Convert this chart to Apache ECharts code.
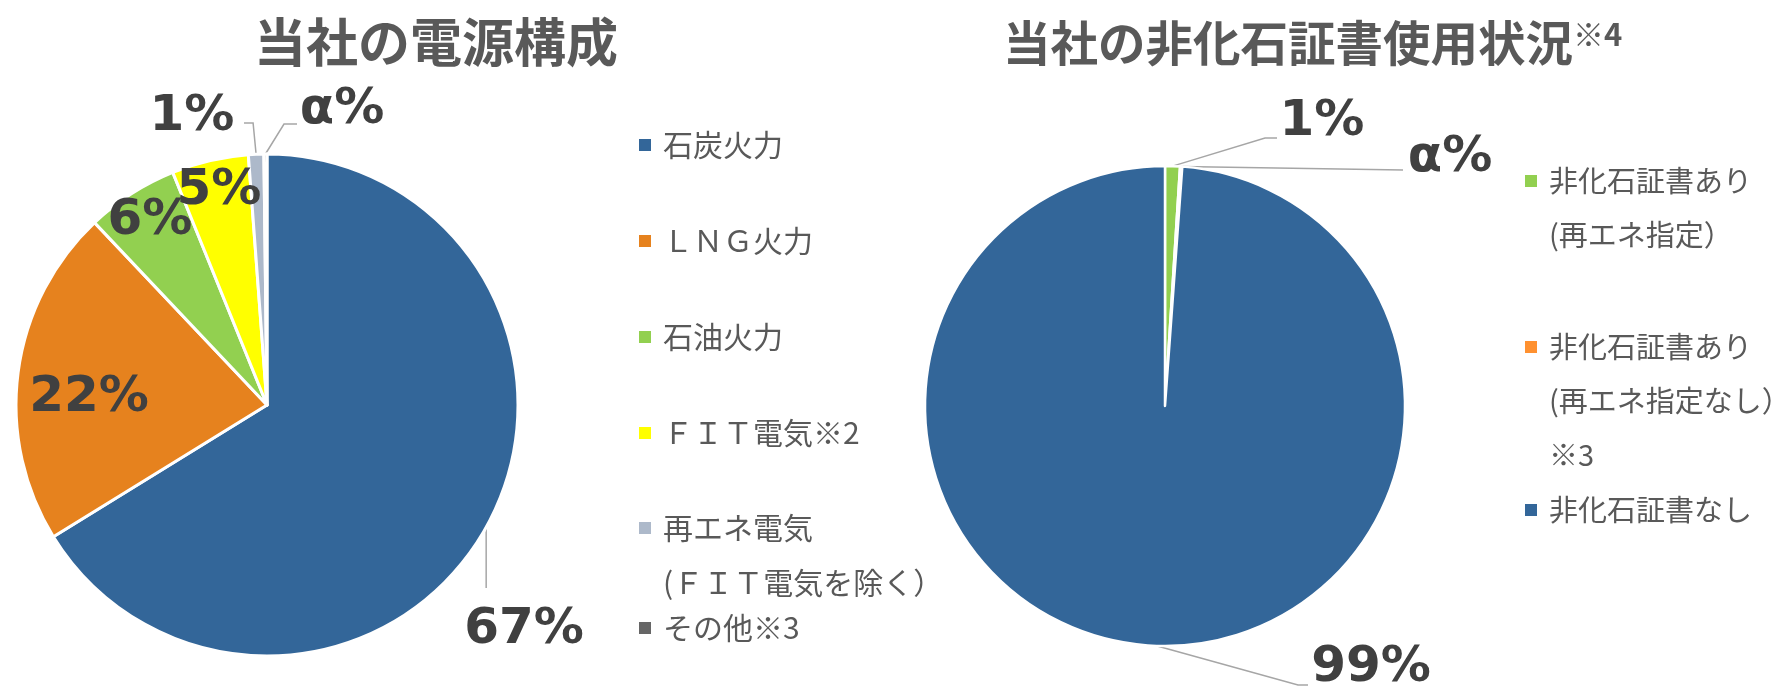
<!DOCTYPE html>
<html>
<head>
<meta charset="utf-8">
<script src="https://cdn.jsdelivr.net/npm/echarts@6/dist/echarts.min.js"></script>
<style>
  html, body { margin: 0; padding: 0; background: #ffffff; }
  #chart { width: 1771px; height: 687px; }
</style>
</head>
<body>
<div id="chart"></div>
<script>
// ---- 当社の電源構成 ----
const mixNames = ['石炭火力', 'ＬＮＧ火力', '石油火力', 'ＦＩＴ電気※2', '再エネ電気\n(ＦＩＴ電気を除く）', 'その他※3'];
const mixValues = [67, 22, 6, 5, 1, 0.2];          // その他 is shown only as "α%"
const mixAlpha = [false, false, false, false, false, true];

// ---- 当社の非化石証書使用状況 ----
const certNames = ['非化石証書あり\n(再エネ指定）', '非化石証書あり\n(再エネ指定なし）\n※3', '非化石証書なし'];
const certValues = [1, 0.15, 99];                  // 再エネ指定なし is shown only as "α%"
const certAlpha = [false, true, false];

// ---- styling ----
const mixColors = ['#336699', '#E6821E', '#92D050', '#FFFF00', '#ADB9CA', '#666666'];
const certColors = ['#92D050', '#FF9130', '#336699'];
const TEXT_GREY = '#595959';
const LABEL_GREY = '#404040';
const LINE_GREY = '#A6A6A6';

// label placement: text centre and leader-line bends after the library's edge point
const mixLabelPos = [
  { x: 524, y: 630, bends: (s) => [[s[0], 588]] },
  { x: 89,  y: 398 },
  { x: 150, y: 221 },
  { x: 219, y: 191 },
  { x: 192, y: 117, bends: (s) => [[s[0] - 3, 123], [244, 123]] },
  { x: 342, y: 110, bends: (s) => [[284, 124], [297, 124]] }
];
const certLabelPos = [
  { x: 1322, y: 122, bends: (s) => [[1265, 138], [1277, 138]] },
  { x: 1450, y: 158, bends: (s) => [[1403, 170]] },
  { x: 1371, y: 668, bends: (s) => [[1298, 685], [1308, 685]] }
];

// legend rows: centre of the first text line of each entry
const mixLegendRows = [145, 241, 337, 433, 528, 628];
const certLegendRows = [181, 347, 510];
const LEGEND_LH = 55;
const CERT_LEGEND_LH = 54;

function buildLegends(names, rows, left, lineHeight, fontSize) {
  return names.map((name, i) => {
    const k = name.split('\n').length;
    const n = 2 * k - 1;                      // blank lines above keep the icon on line one
    return {
      data: [name],
      left: left,
      top: rows[i] - n * lineHeight / 2,
      orient: 'vertical',
      padding: 0,
      icon: 'rect',
      itemWidth: 14,
      itemHeight: 14,
      selectedMode: false,
      formatter: (nm) => '\n'.repeat(k - 1) + nm,
      textStyle: {
        fontFamily: '"Noto Sans CJK JP", sans-serif',
        fontSize: fontSize,
        color: TEXT_GREY,
        lineHeight: lineHeight,
        padding: [0, 0, 0, 6]
      }
    };
  });
}

function makeLayout(posList) {
  return function (params) {
    const p = posList[params.dataIndex];
    const out = { x: p.x, y: p.y, align: 'center', verticalAlign: 'middle' };
    if (p.bends && params.labelLinePoints) {
      const start = params.labelLinePoints[0];
      const pts = [start].concat(p.bends(start));
      while (pts.length < 3) pts.push(pts[pts.length - 1]);
      out.labelLinePoints = pts;
    }
    return out;
  };
}

function pieData(names, values, colors, posList) {
  return names.map((name, i) => ({
    name: name,
    value: values[i],
    itemStyle: { color: colors[i] },
    label: { position: posList[i].bends ? 'outside' : 'inside' },
    labelLine: { show: !!posList[i].bends }
  }));
}

function labelFormatter(alpha) {
  return (p) => alpha[p.dataIndex] ? 'α%' : p.value + '%';
}

const labelStyle = {
  show: true,
  fontFamily: '"DejaVu Sans", sans-serif',
  fontWeight: 'bold',
  fontSize: 50,
  color: LABEL_GREY
};

const chart = echarts.init(document.getElementById('chart'), null, { renderer: 'canvas' });

chart.setOption({
  backgroundColor: '#ffffff',
  animation: false,
  title: [
    {
      text: '当社の電源構成',
      left: 254,
      top: 16,
      padding: 0,
      textStyle: {
        fontFamily: '"Noto Sans CJK JP", sans-serif',
        fontSize: 52,
        fontWeight: 'bold',
        color: TEXT_GREY
      }
    },
    {
      text: '{a|当社の非化石証書使用状況}{b|※4}',
      left: 1003,
      top: 19,
      padding: 0,
      textStyle: {
        rich: {
          a: {
            fontFamily: '"Noto Sans CJK JP", sans-serif',
            fontSize: 47.5,
            fontWeight: 'bold',
            color: TEXT_GREY
          },
          b: {
            fontFamily: '"Noto Sans CJK JP", sans-serif',
            fontSize: 31,
            fontWeight: 'bold',
            color: TEXT_GREY,
            verticalAlign: 'top'
          }
        }
      }
    }
  ],
  legend: buildLegends(mixNames, mixLegendRows, 637, LEGEND_LH, 30)
    .concat(buildLegends(certNames, certLegendRows, 1523, CERT_LEGEND_LH, 29)),
  series: [
    {
      name: '当社の電源構成',
      type: 'pie',
      center: [267, 405],
      radius: 251,
      startAngle: 90,
      clockwise: true,
      avoidLabelOverlap: false,
      emphasis: { disabled: true },
      itemStyle: { borderColor: '#ffffff', borderWidth: 3 },
      label: Object.assign({ formatter: labelFormatter(mixAlpha) }, labelStyle),
      labelLine: { lineStyle: { color: LINE_GREY, width: 1.5 } },
      labelLayout: makeLayout(mixLabelPos),
      data: pieData(mixNames, mixValues, mixColors, mixLabelPos)
    },
    {
      name: '当社の非化石証書使用状況',
      type: 'pie',
      center: [1165, 406],
      radius: 240,
      startAngle: 90,
      clockwise: true,
      avoidLabelOverlap: false,
      emphasis: { disabled: true },
      itemStyle: { borderColor: '#ffffff', borderWidth: 2.5 },
      label: Object.assign({ formatter: labelFormatter(certAlpha) }, labelStyle),
      labelLine: { lineStyle: { color: LINE_GREY, width: 1.5 } },
      labelLayout: makeLayout(certLabelPos),
      data: pieData(certNames, certValues, certColors, certLabelPos)
    }
  ]
});
</script>
</body>
</html>
